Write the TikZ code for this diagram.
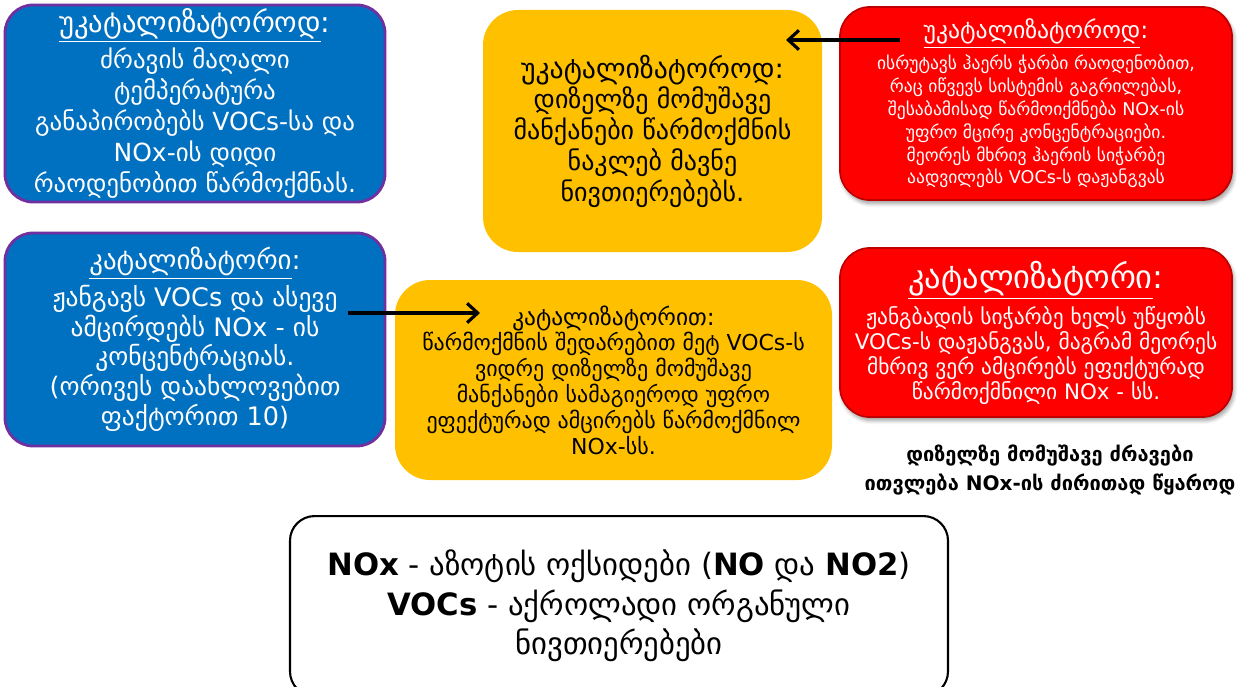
\documentclass[tikz,border=0pt]{standalone}
\usepackage{fontspec}
\setmainfont{DejaVu Sans}
\usetikzlibrary{arrows.meta,shadows.blur}
\definecolor{blu}{RGB}{0,112,192}
\definecolor{pur}{RGB}{112,48,160}
\definecolor{yel}{RGB}{255,192,0}
\definecolor{rd}{RGB}{255,0,0}
\definecolor{rdk}{RGB}{192,0,0}
\newcommand{\fsz}[2]{\fontsize{#1}{#2}\selectfont}
\tikzset{
  bluebox/.style={rectangle,rounded corners=16pt,draw=pur,line width=1.6pt,fill=blu,text=white,align=center,minimum width=7.6cm,inner sep=2pt},
  yellowbox/.style={rectangle,rounded corners=20pt,fill=yel,text=black,align=center,inner sep=2pt},
  redbox/.style={rectangle,rounded corners=17pt,draw=rdk,line width=1pt,fill=rd,text=white,align=center,minimum width=7.84cm,inner sep=2pt,
    blur shadow={shadow xshift=1pt,shadow yshift=-2pt,shadow blur steps=5}},
  notebox/.style={rectangle,rounded corners=14pt,draw=black,line width=1.2pt,fill=white,align=center,minimum width=13.16cm,minimum height=3.6cm},
  arrowlink/.style={-{Straight Barb[length=6pt,width=11pt]},line width=1.8pt,draw=black},
}
\begin{document}
\begin{tikzpicture}
\useasboundingbox (0,0) rectangle (24.76,-13.74);
% top row
\node[bluebox,minimum height=3.86cm,font=\fsz{14.2}{17.6}] (nocatA) at (3.9,-2.07)
  {{\fsz{16.3}{17.6}\underline{უკატალიზატოროდ}:}\\[2pt]ძრავის მაღალი\\ტემპერატურა\\განაპირობებს VOCs-სა და\\NOx-ის დიდი\\რაოდენობით წარმოქმნას.};
\node[yellowbox,minimum width=6.78cm,minimum height=4.84cm,font=\fsz{14.8}{17.5}] (dieselA) at (13.05,-2.62)
  {{\fsz{15.8}{17.5}უკატალიზატოროდ:}\\დიზელზე მომუშავე\\მანქანები წარმოქმნის\\ნაკლებ მავნე\\ნივთიერებებს.};
\node[redbox,minimum height=3.86cm,font=\fsz{10}{13}] (nocatB) at (20.72,-2.07)
  {{\fsz{13.5}{13}\underline{უკატალიზატოროდ}:}\\[3pt]ისრუტავს ჰაერს ჭარბი რაოდენობით,\\რაც იწვევს სისტემის გაგრილებას,\\შესაბამისად წარმოიქმნება NOx-ის\\უფრო მცირე კონცენტრაციები.\\მეორეს მხრივ ჰაერის სიჭარბე\\აადვილებს VOCs-ს დაჟანგვას};
% middle row
\node[bluebox,minimum height=4.26cm,font=\fsz{14.5}{17}] (catA) at (3.9,-6.79)
  {{\fsz{15.3}{17}\underline{კატალიზატორი}:}\\[2pt]ჟანგავს VOCs და ასევე\\ამცირდებს NOx - ის\\კონცენტრაციას.\\(ორივეს დაახლოვებით\\ფაქტორით 10)};
\node[yellowbox,minimum width=8.74cm,minimum height=4cm,font=\fsz{12.5}{14.7}] (dieselB) at (12.27,-7.6)
  {{\fsz{13.3}{14.7}კატალიზატორით:}\\წარმოქმნის შედარებით მეტ VOCs-ს\\ვიდრე დიზელზე მომუშავე\\მანქანები სამაგიეროდ უფრო\\ეფექტურად ამცირებს წარმოქმნილ\\NOx-სს.};
\node[redbox,minimum height=3.38cm,font=\fsz{12.2}{14.2}] (catB) at (20.72,-6.65)
  {{\fsz{18.5}{17}\underline{კატალიზატორი}:}\\[3pt]ჟანგბადის სიჭარბე ხელს უწყობს\\VOCs-ს დაჟანგვას, მაგრამ მეორეს\\მხრივ ვერ ამცირებს ეფექტურად\\წარმოქმნილი NOx - სს.};
\node[align=center,font=\bfseries\fsz{11.4}{17}] (src) at (21.0,-9.4)
  {დიზელზე მომუშავე ძრავები\\ითვლება NOx-ის ძირითად წყაროდ};
% legend
\node[notebox,anchor=north,font=\fsz{17.5}{22.5}] (legend) at (12.38,-10.3)
  {\textbf{NOx} - აზოტის ოქსიდები (\textbf{NO} და \textbf{NO2})\\\textbf{VOCs} - აქროლადი ორგანული\\ნივთიერებები};
% arrows
\coordinate (fromB) at (18.0,-0.8);
\coordinate (toA) at (15.72,-0.8);
\coordinate (fromC) at (6.96,-6.26);
\coordinate (toD) at (9.6,-6.26);
\draw[arrowlink] (fromB) -- (toA);
\draw[arrowlink] (fromC) -- (toD);
\end{tikzpicture}
\end{document}
